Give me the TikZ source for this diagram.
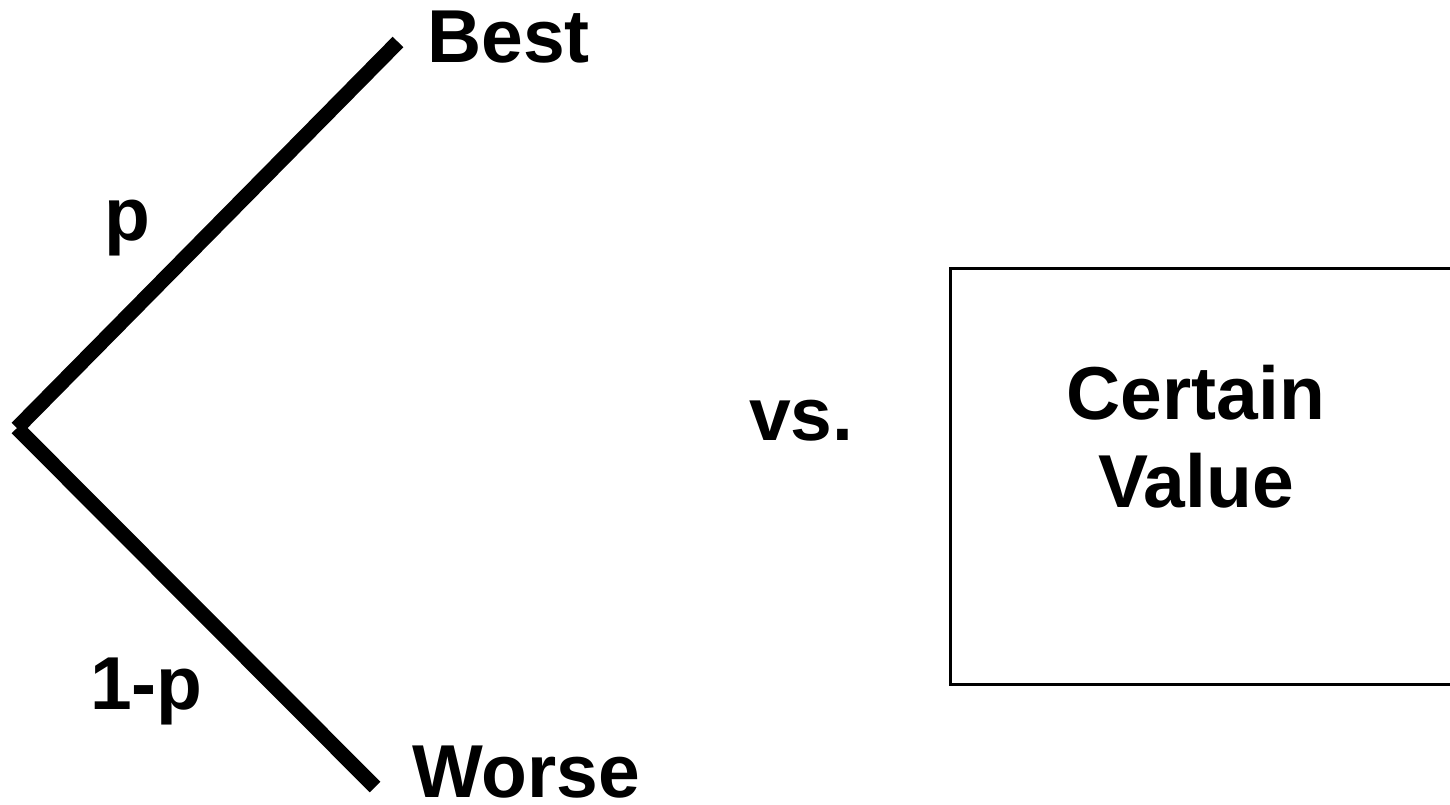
\documentclass[tikz,border=0pt]{standalone}
\usepackage{fontspec}
\setmainfont{Liberation Sans}
\usetikzlibrary{positioning}

\begin{document}
\begin{tikzpicture}[x=1pt, y=-1pt,
    branch/.style={line width=15pt},
    big/.style={font=\bfseries\fontsize{75}{88}\selectfont, inner sep=0pt},
    frame/.style={draw, line width=3pt}
]
    \useasboundingbox (0,0) rectangle (1450,805);
    \coordinate (root) at (17,428);
    \coordinate (topend) at (398,42);
    \coordinate (lowend) at (375,787);
    \draw[branch] (root) -- (topend);
    \draw[branch] (root) -- (lowend);

    \node[big, anchor=base west] (best) at (427,63) {Best};
    \node[big, anchor=base west] (worse) at (412,797) {Worse};
    \node[big, anchor=base west] (p) at (104,240) {p};
    \node[big, anchor=base west] (notp) at (90,709) {1-p};
    \node[big, anchor=base west] (vs) at (749,440) {vs.};

    \draw[frame] (950,268) rectangle (1470,684);
    \node[big, align=center] (cv) at (1196,437) {Certain\\Value};
\end{tikzpicture}
\end{document}
